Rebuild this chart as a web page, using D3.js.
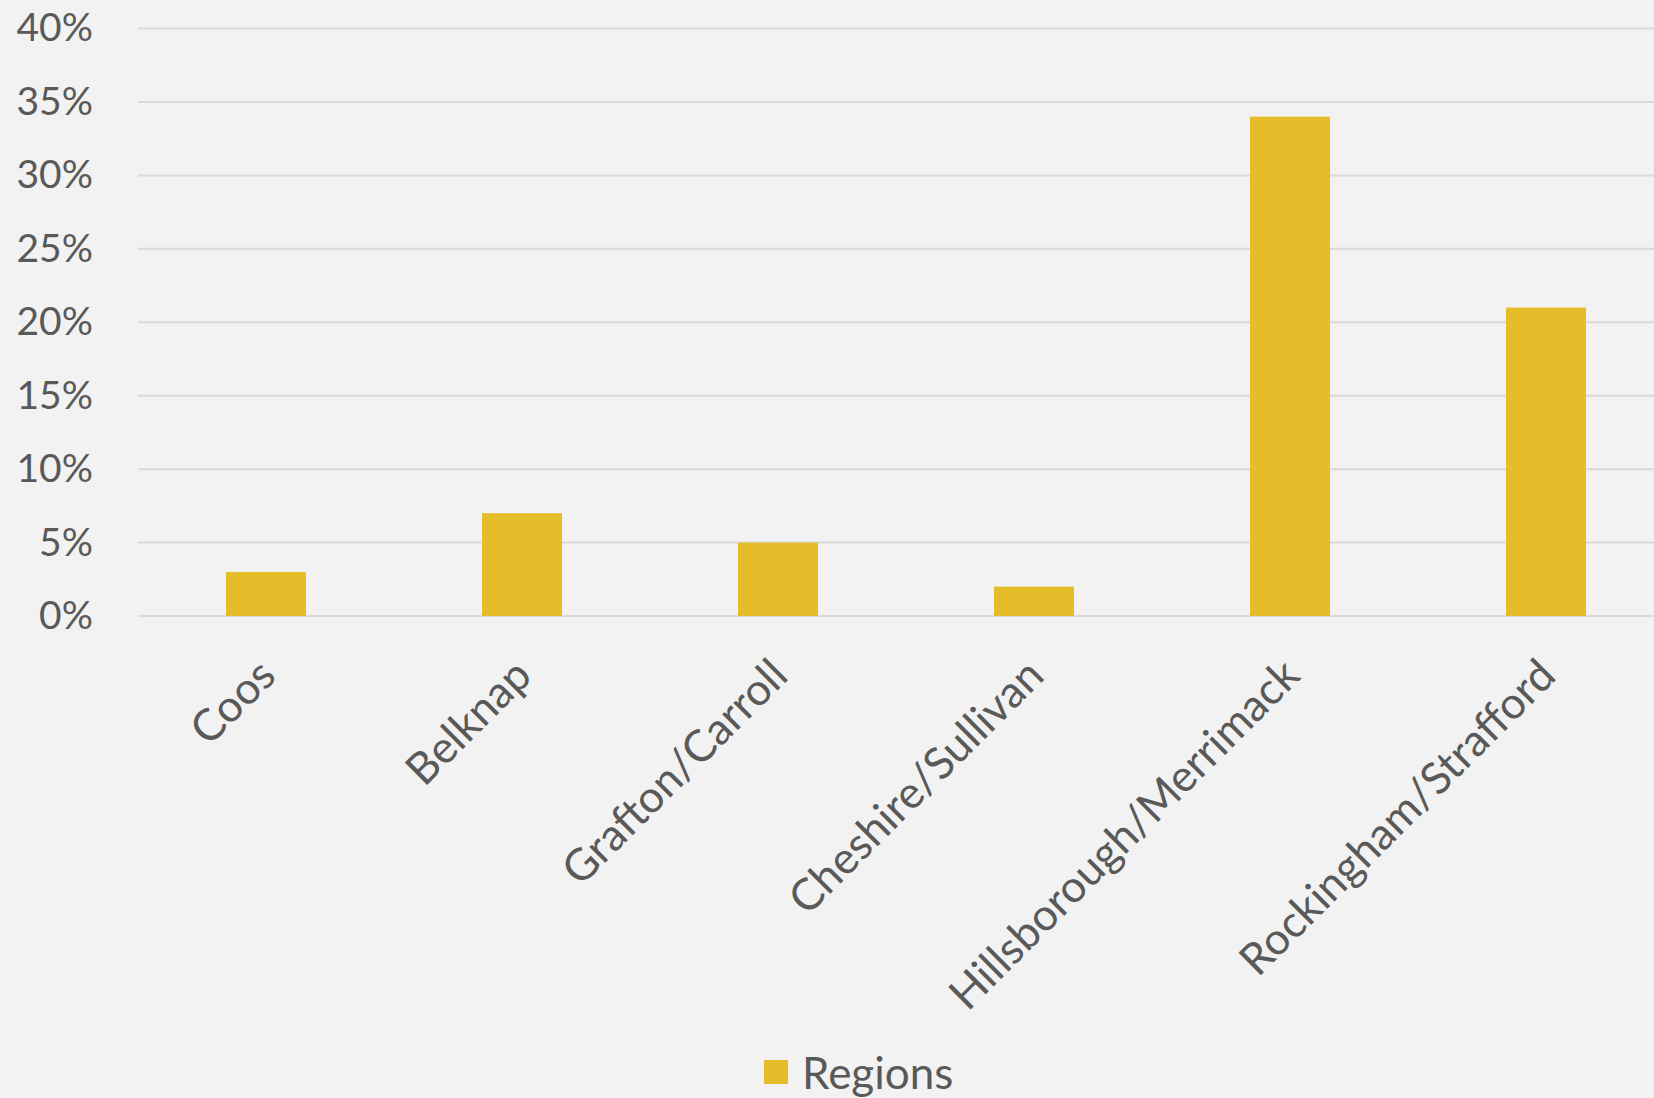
<!DOCTYPE html>
<html>
<head>
<meta charset="utf-8">
<script src="https://cdn.jsdelivr.net/npm/d3@7"></script>
<style>
  body { margin: 0; background: #f2f2f2; }
  text { font-family: "Lato", "Open Sans", sans-serif; fill: #595959; }
</style>
</head>
<body>
<div id="container"></div>
<script>
const regions = ["Coos", "Belknap", "Grafton/Carroll", "Cheshire/Sullivan", "Hillsborough/Merrimack", "Rockingham/Strafford"];
const shares = [3, 7, 5, 2, 34, 21];
const yTicks = [0, 5, 10, 15, 20, 25, 30, 35, 40];
const seriesName = "Regions";

const w = 1654;
const h = 1098;
// plot area runs a little past the right edge, as in the original
const plotLeft = 138, plotRight = 1674, plotTop = 28.5, plotBottom = 616;

const svg = d3.select("#container")
  .append("svg")
  .attr("width", w)
  .attr("height", h);

svg.append("rect")
  .attr("width", w)
  .attr("height", h)
  .attr("fill", "#f2f2f2");

const xScale = d3.scaleBand()
  .domain(regions)
  .range([plotLeft, plotRight])
  .paddingInner(0.6875)
  .paddingOuter(0.34375);

const yScale = d3.scaleLinear()
  .domain([0, 40])
  .range([plotBottom, plotTop]);

// gridlines
svg.append("g")
  .selectAll("line")
  .data(yTicks)
  .enter()
  .append("line")
  .attr("x1", plotLeft)
  .attr("x2", w)
  .attr("y1", (d) => yScale(d))
  .attr("y2", (d) => yScale(d))
  .attr("stroke", "#d9d9d9")
  .attr("stroke-width", 2);

// y axis labels
const yAxis = d3.axisLeft(yScale)
  .tickValues(yTicks)
  .tickFormat((d) => d + "%")
  .tickSize(0)
  .tickPadding(0);

const yG = svg.append("g")
  .attr("transform", "translate(93, 0)")
  .call(yAxis);
yG.select(".domain").remove();
yG.selectAll("text")
  .style("font-size", "39px")
  .attr("fill", "#595959");

// bars
svg.selectAll("rect.bar")
  .data(shares)
  .enter()
  .append("rect")
  .attr("class", "bar")
  .attr("x", (d, i) => xScale(regions[i]))
  .attr("y", (d) => yScale(d))
  .attr("width", xScale.bandwidth())
  .attr("height", (d) => plotBottom - yScale(d))
  .attr("fill", "#e5bc29");

// x labels
const xAxis = d3.axisBottom(xScale).tickSize(0).tickPadding(0);
const xG = svg.append("g")
  .attr("transform", "translate(0, " + plotBottom + ")")
  .call(xAxis);
xG.select(".domain").remove();
xG.selectAll("text")
  .style("font-size", "44px")
  .attr("fill", "#595959")
  .attr("text-anchor", "end")
  .attr("dy", 0)
  .attr("transform", "translate(12, 62) rotate(-45)");

// legend
const legend = svg.append("g").attr("transform", "translate(764, 1060)");
legend.append("rect")
  .attr("width", 24)
  .attr("height", 24)
  .attr("fill", "#e5bc29");
legend.append("text")
  .attr("x", 38)
  .attr("y", 29)
  .style("font-size", "44px")
  .text(seriesName);
</script>
</body>
</html>
